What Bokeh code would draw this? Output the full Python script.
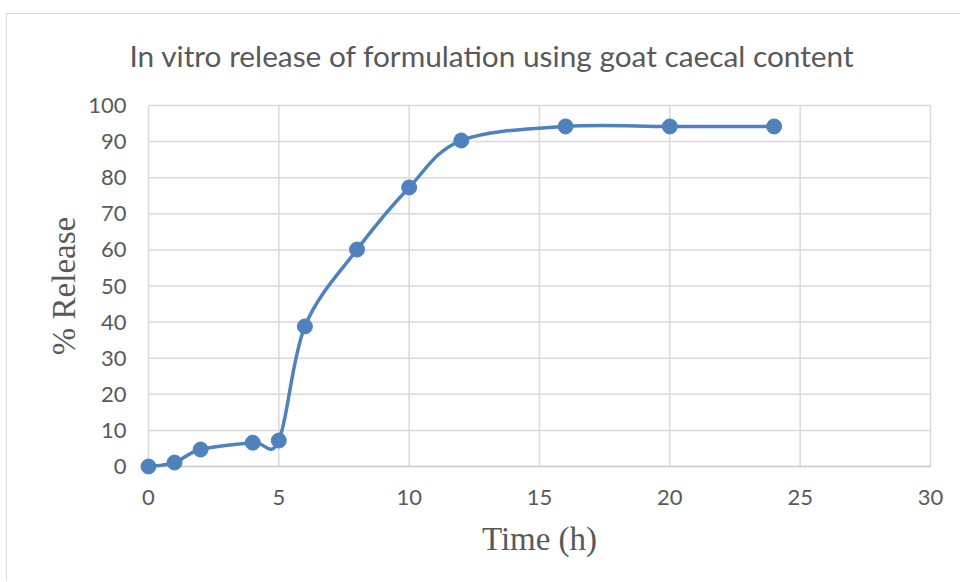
from bokeh.plotting import figure
from bokeh.models import ColumnDataSource, FixedTicker, Range1d
from bokeh.embed import file_html
from bokeh.resources import INLINE

# Release profile: sampling time (h) and cumulative % released
time_h = [0, 1, 2, 4, 5, 6, 8, 10, 12, 16, 20, 24]
release_pct = [0, 1.1, 4.7, 6.6, 7.2, 38.8, 60.1, 77.3, 90.3, 94.2, 94.2, 94.2]

x_ticks = [0, 5, 10, 15, 20, 25, 30]
y_ticks = [0, 10, 20, 30, 40, 50, 60, 70, 80, 90, 100]

LINE_COLOR = "#4f81bd"
GRID_COLOR = "#d9d9d9"
TEXT_COLOR = "#595959"

# small padding around the data area so edge markers are drawn whole
PAD_X = 0.46
PAD_Y = 3.32
X_MIN, X_MAX = x_ticks[0], x_ticks[-1]
Y_MIN, Y_MAX = y_ticks[0], y_ticks[-1]


def smooth_segments(xs, ys):
    """Catmull-Rom style cubic Bezier segments through every data point."""
    n = len(xs)
    seg = {k: [] for k in ("x0", "y0", "x1", "y1", "cx0", "cy0", "cx1", "cy1")}
    for i in range(n - 1):
        xp, yp = (xs[i - 1], ys[i - 1]) if i > 0 else (xs[i], ys[i])
        xn2, yn2 = (xs[i + 2], ys[i + 2]) if i + 2 < n else (xs[i + 1], ys[i + 1])
        seg["x0"].append(xs[i])
        seg["y0"].append(ys[i])
        seg["x1"].append(xs[i + 1])
        seg["y1"].append(ys[i + 1])
        seg["cx0"].append(xs[i] + (xs[i + 1] - xp) / 6)
        seg["cy0"].append(ys[i] + (ys[i + 1] - yp) / 6)
        seg["cx1"].append(xs[i + 1] - (xn2 - xs[i]) / 6)
        seg["cy1"].append(ys[i + 1] - (yn2 - ys[i]) / 6)
    return seg


p = figure(
    width=953,
    height=568,
    x_range=Range1d(X_MIN - PAD_X, X_MAX + PAD_X),
    y_range=Range1d(Y_MIN - PAD_Y, Y_MAX + PAD_Y),
    output_backend="svg",
    toolbar_location=None,
    title="In vitro release of formulation using goat caecal content",
    min_border_left=129,
    min_border_right=18,
    min_border_top=79,
    min_border_bottom=104,
)
p.styles = {
    "margin-left": "6px",
    "margin-top": "13px",
    "border-left": "1px solid #d9d9d9",
    "border-top": "1px solid #d9d9d9",
}

p.title.align = "left"
p.title.offset = -7
p.title.text_font = "Lato"
p.title.text_font_size = "29.8px"
p.title.text_font_style = "normal"
p.title.text_color = TEXT_COLOR
p.title.standoff = 41

p.outline_line_color = None
p.background_fill_color = "white"
p.border_fill_color = "white"
p.xgrid.visible = False
p.ygrid.visible = False

# gridlines limited to the 0-30 / 0-100 data box
p.segment(x0=x_ticks, y0=[Y_MIN] * len(x_ticks), x1=x_ticks, y1=[Y_MAX] * len(x_ticks),
          line_color=GRID_COLOR, line_width=1.5)
p.segment(x0=[X_MIN] * len(y_ticks), y0=y_ticks, x1=[X_MAX] * len(y_ticks), y1=y_ticks,
          line_color=GRID_COLOR, line_width=1.5)
# horizontal axis line at zero
p.segment(x0=[X_MIN], y0=[Y_MIN], x1=[X_MAX], y1=[Y_MIN],
          line_color="#cdcdcd", line_width=1.5)

p.xaxis.ticker = FixedTicker(ticks=x_ticks)
p.yaxis.ticker = FixedTicker(ticks=y_ticks)
for ax in (p.xaxis, p.yaxis):
    ax.axis_line_color = None
    ax.major_tick_line_color = None
    ax.minor_tick_line_color = None
    ax.major_label_text_font = "Lato"
    ax.major_label_text_font_size = "22px"
    ax.major_label_text_color = TEXT_COLOR
    ax.axis_label_text_font = "Liberation Serif"
    ax.axis_label_text_font_size = "33px"
    ax.axis_label_text_font_style = "normal"
    ax.axis_label_text_color = TEXT_COLOR
p.xaxis.major_label_standoff = 5
p.yaxis.major_label_standoff = 4
p.xaxis.axis_label = "Time (h)"
p.yaxis.axis_label = "% Release"
p.xaxis.axis_label_standoff = 13
p.yaxis.axis_label_standoff = 3

seg_src = ColumnDataSource(smooth_segments(time_h, release_pct))
p.bezier(x0="x0", y0="y0", x1="x1", y1="y1", cx0="cx0", cy0="cy0",
         cx1="cx1", cy1="cy1", source=seg_src,
         line_color=LINE_COLOR, line_width=3.5)

pts = ColumnDataSource(dict(t=time_h, r=release_pct))
p.scatter("t", "r", source=pts, size=15, fill_color=LINE_COLOR,
          line_color=LINE_COLOR)

open("out.html", "w").write(file_html(p, INLINE))
